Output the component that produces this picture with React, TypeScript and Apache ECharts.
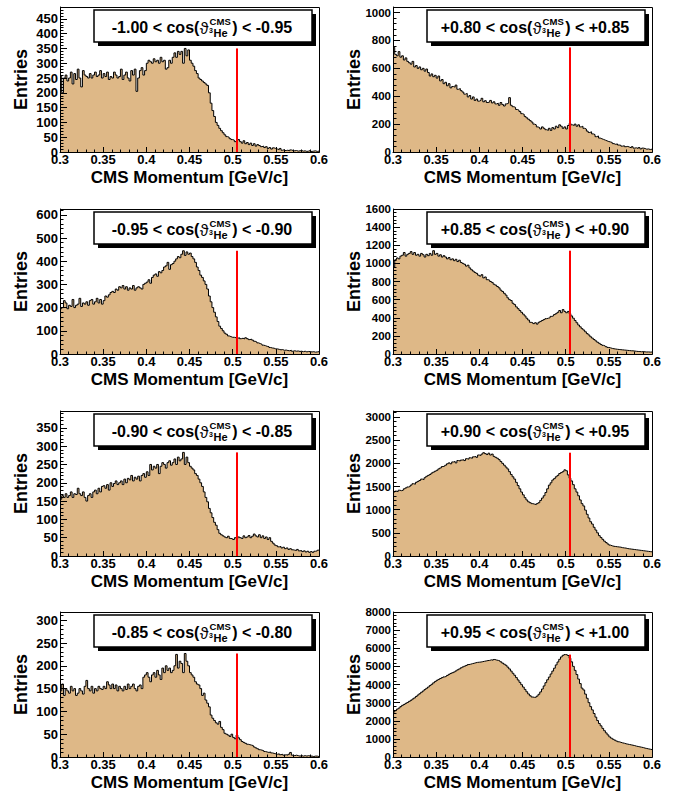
import React, { useEffect, useRef } from 'react';
import * as echarts from 'echarts';

// ---- Histogram binning / axis values ----
const BIN_MIN = 0.3;
const BIN_WIDTH = 0.002;
const X_MIN = 0.3;
const X_MAX = 0.6;
const X_INTERVAL = 0.05;
const CUT_MOMENTUM = 0.505;

const cosLow = ['-1.00', '+0.80', '-0.95', '+0.85', '-0.90', '+0.90', '-0.85', '+0.95'];
const cosHigh = ['-0.95', '+0.85', '-0.90', '+0.90', '-0.85', '+0.95', '-0.80', '+1.00'];
const yMaxValues = [490, 1040, 625, 1600, 396, 3130, 318, 8000];
const yIntervals = [50, 200, 100, 200, 50, 500, 50, 1000];

// ---- Entries per bin (0.300 ... 0.598, width 0.002) ----
const entries_m100_m095 = [
  255, 200, 250, 260, 240,
  250, 270, 230, 265, 245,
  280, 250, 220, 275, 260,
  255, 250, 265, 250, 260,
  270, 255, 260, 275, 250,
  265, 255, 270, 245, 255,
  250, 270, 260, 250, 255,
  280, 245, 260, 270, 250,
  240, 275, 260, 280, 205,
  250, 275, 285, 260, 275,
  300, 310, 305, 300, 315,
  305, 310, 300, 320, 305,
  310, 280, 285, 310, 300,
  320, 335, 320, 340, 330,
  340, 300, 350, 325, 345,
  310, 300, 290, 275, 265,
  250, 245, 240, 235, 230,
  225, 200, 165, 140, 120,
  100, 90, 80, 72, 65,
  58, 52, 50, 45, 42,
  40, 35, 38, 42, 35,
  30, 38, 28, 32, 25,
  30, 22, 28, 20, 25,
  22, 18, 20, 15, 18,
  12, 15, 10, 14, 12,
  10, 8, 12, 6, 8,
  5, 6, 4, 7, 5,
  4, 5, 3, 4, 5,
  3, 4, 2, 3, 5,
  2, 3, 4, 2, 3,
];

const entries_p080_p085 = [
  750, 700, 690, 720, 680,
  690, 660, 675, 650, 640,
  630, 650, 610, 620, 600,
  610, 590, 600, 580, 595,
  570, 545, 560, 540, 550,
  530, 545, 510, 520, 490,
  500, 475, 490, 460, 470,
  465, 480, 450, 455, 440,
  430, 415, 420, 395, 405,
  380, 395, 370, 380, 365,
  370, 385, 360, 368, 355,
  358, 370, 352, 360, 345,
  350, 335, 355, 340, 330,
  345, 350, 390, 335, 325,
  320, 305, 300, 290, 275,
  270, 255, 245, 235, 225,
  215, 200, 195, 180, 175,
  165, 180, 170, 160, 155,
  170, 155, 175, 165, 185,
  175, 195, 185, 170, 180,
  165, 190, 205, 195, 190,
  200, 185, 195, 180, 185,
  170, 165, 150, 140, 145,
  130, 125, 110, 115, 100,
  95, 90, 85, 80, 75,
  72, 68, 60, 55, 58,
  50, 48, 42, 45, 38,
  40, 35, 30, 38, 28,
  30, 25, 32, 22, 28,
  25, 20, 22, 18, 20,
];

const entries_m095_m090 = [
  195, 200, 230, 220, 195,
  210, 205, 235, 200, 210,
  215, 240, 205, 220, 215,
  225, 210, 230, 235, 215,
  225, 240, 220, 235, 215,
  230, 250, 245, 255, 265,
  270, 265, 280, 275, 290,
  285, 295, 280, 290, 275,
  285, 280, 295, 275, 285,
  290, 285, 280, 300, 305,
  310, 320, 305, 330, 340,
  345, 335, 355, 350, 360,
  375, 380, 395, 365, 385,
  390, 400, 410, 420, 415,
  430, 445, 425, 440, 430,
  435, 420, 410, 395, 375,
  360, 340, 330, 315, 300,
  280, 250, 225, 200, 180,
  160, 140, 120, 110, 100,
  90, 85, 78, 75, 72,
  72, 70, 68, 70, 66,
  68, 65, 70, 66, 62,
  64, 60, 55, 52, 48,
  45, 42, 38, 36, 33,
  32, 28, 26, 25, 22,
  22, 20, 18, 19, 16,
  17, 15, 14, 16, 12,
  14, 12, 13, 11, 12,
  10, 12, 9, 11, 10,
  9, 10, 8, 9, 10,
];

const entries_p085_p090 = [
  960, 1040, 1060, 1050, 1080,
  1090, 1120, 1080, 1100, 1110,
  1130, 1100, 1120, 1090, 1100,
  1080, 1110, 1095, 1070, 1100,
  1085, 1110, 1090, 1140, 1100,
  1110, 1080, 1095, 1070, 1085,
  1070, 1050, 1065, 1040, 1050,
  1030, 1045, 1020, 1035, 1010,
  1000, 990, 970, 980, 950,
  930, 915, 900, 890, 870,
  860, 875, 840, 850, 820,
  815, 800, 790, 770, 760,
  745, 730, 705, 690, 670,
  650, 620, 600, 590, 560,
  545, 520, 500, 480, 460,
  440, 420, 395, 375, 350,
  345, 335, 345, 330, 350,
  360, 370, 380, 390, 395,
  400, 415, 420, 435, 445,
  460, 480, 455, 490, 470,
  455, 470, 445, 420, 395,
  370, 345, 320, 300, 280,
  265, 245, 225, 210, 190,
  175, 160, 145, 130, 118,
  105, 95, 88, 80, 72,
  68, 62, 58, 55, 52,
  50, 48, 46, 44, 42,
  40, 38, 36, 35, 33,
  30, 28, 27, 25, 26,
  24, 22, 23, 21, 22,
];

const entries_m090_m085 = [
  155, 165, 160, 170, 160,
  165, 175, 160, 170, 168,
  185, 170, 165, 175, 160,
  150, 165, 170, 160, 175,
  180, 170, 185, 175, 190,
  192, 185, 195, 180, 200,
  190, 198, 205, 195, 200,
  205, 195, 210, 200, 212,
  208, 220, 205, 215, 210,
  218, 205, 220, 225, 215,
  230, 220, 250, 235, 245,
  240, 250, 225, 245, 255,
  250, 240, 255, 260, 248,
  255, 265, 250, 270, 260,
  265, 283, 250, 270, 255,
  245, 240, 235, 225, 220,
  210, 200, 190, 175, 160,
  148, 130, 118, 105, 92,
  84, 72, 62, 58, 55,
  52, 50, 54, 48, 47,
  45, 50, 48, 52, 50,
  48, 55, 50, 52, 56,
  50, 54, 60, 55, 52,
  58, 50, 55, 48, 52,
  45, 50, 40, 35, 30,
  28, 25, 26, 22, 24,
  20, 22, 18, 20, 17,
  16, 15, 18, 14, 15,
  12, 14, 11, 13, 10,
  12, 10, 13, 14, 16,
];

const entries_p090_p095 = [
  1380, 1400, 1390, 1420, 1410,
  1420, 1450, 1470, 1490, 1500,
  1530, 1560, 1550, 1590, 1610,
  1630, 1660, 1650, 1690, 1720,
  1740, 1760, 1790, 1810, 1830,
  1850, 1880, 1900, 1930, 1940,
  1960, 1990, 2010, 1990, 2030,
  2040, 2010, 2060, 2050, 2070,
  2080, 2060, 2100, 2090, 2120,
  2110, 2140, 2150, 2130, 2180,
  2170, 2200, 2230, 2210, 2190,
  2220, 2180, 2200, 2150, 2130,
  2110, 2080, 2040, 2000, 1960,
  1920, 1880, 1820, 1760, 1710,
  1660, 1590, 1520, 1450, 1380,
  1320, 1260, 1210, 1170, 1150,
  1130, 1120, 1110, 1130, 1150,
  1200, 1250, 1300, 1370, 1450,
  1530, 1580, 1640, 1670, 1710,
  1740, 1780, 1800, 1820, 1860,
  1840, 1750, 1680, 1620, 1540,
  1450, 1380, 1300, 1210, 1130,
  1080, 990, 900, 820, 740,
  690, 620, 560, 500, 440,
  400, 360, 320, 290, 260,
  235, 220, 210, 205, 200,
  195, 190, 180, 175, 170,
  160, 155, 150, 145, 140,
  135, 130, 125, 120, 115,
  110, 105, 100, 95, 90,
];

const entries_m085_m080 = [
  145, 160, 135, 150, 145,
  140, 155, 145, 150, 135,
  140, 150, 145, 138, 155,
  168, 150, 145, 155, 140,
  150, 145, 155, 150, 148,
  155, 150, 165, 158, 150,
  160, 150, 158, 145, 155,
  150, 145, 155, 148, 160,
  150, 155, 160, 150, 145,
  155, 158, 150, 175, 180,
  185, 175, 165, 180, 185,
  175, 190, 180, 170, 195,
  185, 200, 190, 195, 185,
  190, 200, 225, 195, 210,
  205, 185, 227, 210, 200,
  185, 180, 175, 165, 160,
  158, 150, 135, 140, 125,
  118, 110, 92, 85, 80,
  75, 72, 78, 65, 60,
  52, 50, 48, 45, 50,
  43, 40, 48, 42, 38,
  34, 32, 30, 28, 27,
  26, 25, 22, 20, 18,
  16, 15, 14, 12, 11,
  10, 11, 9, 8, 7,
  6, 7, 5, 6, 4,
  5, 4, 6, 10, 4,
  3, 4, 3, 2, 3,
  2, 3, 2, 3, 2,
  2, 1, 2, 2, 1,
];

const entries_p095_p100 = [
  2480, 2560, 2640, 2700, 2780,
  2850, 2900, 2960, 3010, 3070,
  3130, 3200, 3260, 3340, 3420,
  3490, 3570, 3640, 3720, 3790,
  3860, 3940, 4010, 4090, 4160,
  4230, 4280, 4330, 4380, 4420,
  4450, 4500, 4560, 4610, 4650,
  4690, 4750, 4810, 4860, 4920,
  4970, 5010, 5050, 5100, 5120,
  5150, 5170, 5200, 5220, 5230,
  5240, 5260, 5280, 5300, 5320,
  5330, 5360, 5340, 5380, 5350,
  5330, 5300, 5250, 5180, 5120,
  5060, 4960, 4860, 4740, 4620,
  4510, 4380, 4250, 4120, 3990,
  3860, 3730, 3600, 3480, 3380,
  3310, 3290, 3300, 3360, 3460,
  3590, 3750, 3920, 4100, 4260,
  4410, 4580, 4740, 4900, 5080,
  5240, 5390, 5520, 5610, 5650,
  5640, 5600, 5450, 5250, 5000,
  4780, 4550, 4300, 4050, 3800,
  3700, 3470, 3240, 3000, 2780,
  2600, 2400, 2200, 2010, 1850,
  1720, 1580, 1450, 1330, 1220,
  1110, 1040, 980, 930, 880,
  840, 810, 780, 760, 730,
  710, 690, 670, 650, 630,
  600, 580, 560, 540, 520,
  490, 470, 450, 430, 410,
];

const panels = [
  entries_m100_m095, entries_p080_p085,
  entries_m095_m090, entries_p085_p090,
  entries_m090_m085, entries_p090_p095,
  entries_m085_m080, entries_p095_p100,
];

// ---- Layout / style ----
const FONT = '"Liberation Sans", Arial, Helvetica, sans-serif';
const COL_LEFT = [60, 393];
const ROW_TOP = [7, 209, 411, 612];
const FRAME_W = 259;
const FRAME_H = 145;
const FILL = '#deb887';
const Y_LABEL_SIZE = [13, 11.5];

function buildOption() {
  const canvas = document.createElement('canvas');
  const ctx = canvas.getContext('2d') as CanvasRenderingContext2D;
  const tw = (text: string, size: number, weight: string) => {
    ctx.font = `${weight} ${size}px ${FONT}`;
    return ctx.measureText(text).width;
  };
  const txt = (text: string, x: number, y: number, size: number, weight: string, align: string, z = 102, extra: any = {}) => ({
    type: 'text',
    x,
    y,
    z,
    silent: true,
    ...extra,
    style: {
      text,
      fontSize: size,
      fontWeight: weight,
      fontFamily: FONT,
      fill: '#000',
      textAlign: align,
      align,
      textVerticalAlign: 'middle',
      verticalAlign: 'middle',
    },
  });

  const grids: any[] = [];
  const xAxes: any[] = [];
  const yAxes: any[] = [];
  const series: any[] = [];
  const graphics: any[] = [];

  panels.forEach((vals, i) => {
    const col = i % 2;
    const row = Math.floor(i / 2);
    const L = COL_LEFT[col];
    const T = ROW_TOP[row];
    const interval = yIntervals[i];

    grids.push({ left: L, top: T, width: FRAME_W, height: FRAME_H, show: false, containLabel: false, outerBoundsMode: 'none' });

    xAxes.push({
      type: 'value', gridIndex: i, min: X_MIN, max: X_MAX, interval: X_INTERVAL, z: 10,
      axisLine: { show: true, onZero: false, lineStyle: { color: '#000', width: 1 } },
      axisTick: { show: true, inside: true, length: 5, lineStyle: { color: '#000', width: 1 } },
      minorTick: { show: true, splitNumber: 5, length: 2.5, lineStyle: { color: '#000', width: 1 } },
      splitLine: { show: false }, minorSplitLine: { show: false },
      axisLabel: {
        show: true, margin: 1, fontSize: 13, fontWeight: 'bold', fontFamily: FONT, color: '#000',
        showMinLabel: true, showMaxLabel: true,
      },
    });

    yAxes.push({
      type: 'value', gridIndex: i, min: 0, max: yMaxValues[i], interval, z: 10,
      axisLine: { show: true, onZero: false, lineStyle: { color: '#000', width: 1 } },
      axisTick: { show: true, inside: true, length: 7, lineStyle: { color: '#000', width: 1 } },
      minorTick: { show: true, splitNumber: 5, length: 3.5, lineStyle: { color: '#000', width: 1 } },
      splitLine: { show: false }, minorSplitLine: { show: false },
      axisLabel: {
        show: true, margin: 2, fontSize: Y_LABEL_SIZE[col], fontWeight: 'bold', fontFamily: FONT, color: '#000',
        showMinLabel: true, showMaxLabel: true,
        formatter: (v: number) => {
          const r = v / interval;
          return Math.abs(r - Math.round(r)) < 1e-6 ? String(Math.round(v)) : '';
        },
      },
    });

    const data: number[][] = vals.map((v, k) => [+(BIN_MIN + k * BIN_WIDTH).toFixed(4), v]);
    data.push([X_MAX, vals[vals.length - 1]]);
    series.push({
      type: 'line', xAxisIndex: i, yAxisIndex: i, data, step: 'end',
      symbol: 'none', showSymbol: false, silent: true, z: 2,
      lineStyle: { color: '#000', width: 1 },
      areaStyle: { color: FILL, opacity: 1 },
    });
    const peak = Math.max(...vals);
    series.push({
      type: 'line', xAxisIndex: i, yAxisIndex: i, silent: true, z: 3,
      data: [[CUT_MOMENTUM, 0], [CUT_MOMENTUM, peak]],
      symbol: 'none', showSymbol: false,
      lineStyle: { color: '#ff0000', width: 2 },
    });

    // frame
    graphics.push({
      type: 'rect', z: 50, silent: true,
      shape: { x: L + 0.5, y: T + 0.5, width: FRAME_W, height: FRAME_H },
      style: { fill: 'none', stroke: '#000', lineWidth: 1 },
    });

    // axis titles
    graphics.push(txt('Entries', L - 39, T + FRAME_H / 2, 18, 'bold', 'center', 60, { rotation: Math.PI / 2 }));
    graphics.push(txt('CMS Momentum [GeV/c]', L + FRAME_W / 2, T + FRAME_H + 25, 17, 'bold', 'center', 60));

    // label box
    const bx = L + 34;
    const by = T + 3;
    const bw = FRAME_W - 41;
    const bh = 32;
    graphics.push({ type: 'rect', z: 100, silent: true, shape: { x: bx + 4, y: by + 4, width: bw, height: bh }, style: { fill: '#000' } });
    graphics.push({ type: 'rect', z: 101, silent: true, shape: { x: bx, y: by, width: bw, height: bh }, style: { fill: '#fff', stroke: '#000', lineWidth: 1.5 } });

    const pre = `${cosLow[i]} < cos(`;
    const suf = `) < ${cosHigh[i]}`;
    const wPre = tw(pre, 16, 'bold');
    const wTh = tw('\u03D1', 16, 'normal');
    const wC = tw('CMS', 9.5, 'bold');
    const w3 = tw('3', 7, 'bold');
    const wHe = tw('He', 11, 'bold');
    const wSuf = tw(suf, 16, 'bold');
    const wScript = Math.max(wC, w3 + wHe + 0.5) + 2;
    const total = wPre + wTh + wScript + wSuf + 1;
    const x0 = bx + bw / 2 - total / 2 - 1;
    const yMid = by + 17.5;
    const xth = x0 + wPre + 0.5;
    const xs = xth + wTh + 0.5;
    graphics.push(txt(pre, x0, yMid, 16, 'bold', 'left'));
    graphics.push(txt('\u03D1', xth, yMid + 0.5, 16, 'normal', 'left'));
    graphics.push(txt('CMS', xs + 0.5, by + 11.2, 9.5, 'bold', 'left'));
    graphics.push(txt('3', xs, by + 20.6, 7, 'bold', 'left'));
    graphics.push(txt('He', xs + w3 + 0.5, by + 23.2, 11, 'bold', 'left'));
    graphics.push(txt(suf, xs + wScript, yMid, 16, 'bold', 'left'));
  });

  return {
    animation: false,
    backgroundColor: '#fff',
    grid: grids,
    xAxis: xAxes,
    yAxis: yAxes,
    series,
    graphic: { elements: graphics },
  };
}

export default function App() {
  const ref = useRef<HTMLDivElement>(null);
  useEffect(() => {
    document.body.style.margin = '0';
    const chart = echarts.init(ref.current as HTMLDivElement, undefined, { renderer: 'svg' });
    chart.setOption(buildOption() as any);
    return () => chart.dispose();
  }, []);
  return <div ref={ref} style={{ width: 680, height: 792 }} />;
}
